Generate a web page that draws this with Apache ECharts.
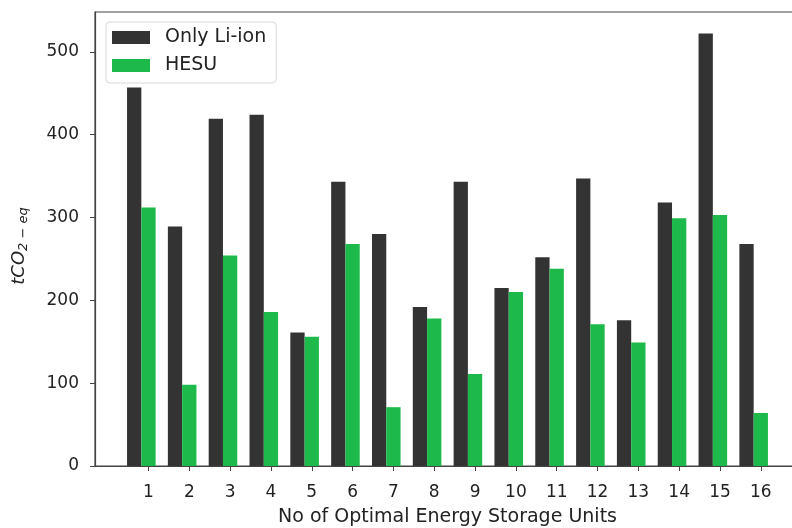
<!DOCTYPE html>
<html>
<head>
<meta charset="utf-8">
<script src="https://cdn.jsdelivr.net/npm/echarts@6/dist/echarts.min.js"></script>
<style>
  html, body { margin: 0; padding: 0; background: #fff; }
  #chart { width: 792px; height: 528px; }
</style>
</head>
<body>
<div id="chart"></div>
<script>
// Storage unit index shown on the x axis
const units = [1, 2, 3, 4, 5, 6, 7, 8, 9, 10, 11, 12, 13, 14, 15, 16];
// Emissions (tCO2-eq) per configuration
const onlyLiIon = [457, 289, 419, 424, 161, 343, 280, 192, 343, 215, 252, 347, 176, 318, 522, 268];
const hesu      = [312, 98, 254, 186, 156, 268, 71, 178, 111, 210, 238, 171, 149, 299, 303, 64];
const yTicks = [0, 100, 200, 300, 400, 500];

const BAR_W = 0.35;
const FONT = 'DejaVu Sans';

function barSeries(name, values, offset, color) {
  return {
    name: name,
    type: 'custom',
    itemStyle: { color: color },
    data: units.map((u, i) => [u, values[i]]),
    encode: { x: 0, y: 1 },
    renderItem: function (params, api) {
      const x = api.value(0) + offset;
      const v = api.value(1);
      const top = api.coord([x, v]);
      const base = api.coord([x, 0]);
      const w = api.size([BAR_W, 0])[0];
      return {
        type: 'rect',
        shape: { x: top[0] - w / 2, y: top[1], width: w, height: base[1] - top[1] },
        style: { fill: color }
      };
    }
  };
}

const chart = echarts.init(document.getElementById('chart'), null, { renderer: 'canvas' });
chart.setOption({
  animation: false,
  backgroundColor: '#fff',
  textStyle: { fontFamily: FONT },
  grid: {
    left: 95, top: 12, width: 705, bottom: 62,
    outerBoundsMode: 'none',
    show: true, borderColor: '#444', borderWidth: 1.2, backgroundColor: 'transparent'
  },
  legend: {
    orient: 'vertical',
    left: 106, top: 22,
    padding: [6, 10, 8, 6],
    itemWidth: 38, itemHeight: 13, itemGap: 9,
    backgroundColor: '#fff',
    borderColor: '#d8d8d8', borderWidth: 1, borderRadius: 4,
    textStyle: { fontFamily: FONT, fontSize: 19, color: '#222', padding: [0, 0, 0, 10] },
    data: [
      { name: 'Only Li-ion', icon: 'rect' },
      { name: 'HESU', icon: 'rect' }
    ]
  },
  xAxis: {
    type: 'value',
    min: -0.31, max: 16.96,
    name: 'No of Optimal Energy Storage Units',
    nameLocation: 'middle', nameGap: 42,
    nameTextStyle: { fontFamily: FONT, fontSize: 19, color: '#222' },
    splitLine: { show: false },
    axisLine: { show: true, onZero: false, lineStyle: { color: '#444', width: 1.2 } },
    axisTick: { show: true, length: 5, customValues: units, lineStyle: { color: '#444' } },
    axisLabel: { customValues: units, fontFamily: FONT, fontSize: 17, color: '#222', margin: 18 }
  },
  yAxis: {
    type: 'value',
    min: 0, max: 548,
    name: '{i|tCO}{s|2 − eq}',
    nameLocation: 'middle', nameGap: 65, nameRotate: 90,
    nameTextStyle: {
      padding: [0, 14, 0, 0],
      rich: {
        i: { fontFamily: FONT, fontStyle: 'italic', fontSize: 18, color: '#222' },
        s: { fontFamily: FONT, fontStyle: 'italic', fontSize: 13, color: '#222', padding: [9, 0, 0, 0] }
      }
    },
    splitLine: { show: false },
    axisLine: { show: true, onZero: false, lineStyle: { color: '#444', width: 1.2 } },
    axisTick: { show: true, length: 5, customValues: yTicks, lineStyle: { color: '#444' } },
    axisLabel: { customValues: yTicks, fontFamily: FONT, fontSize: 17, color: '#222', margin: 16 }
  },
  series: [
    barSeries('Only Li-ion', onlyLiIon, -BAR_W, '#333333'),
    barSeries('HESU', hesu, 0, '#1dba4b')
  ]
});
</script>
</body>
</html>
